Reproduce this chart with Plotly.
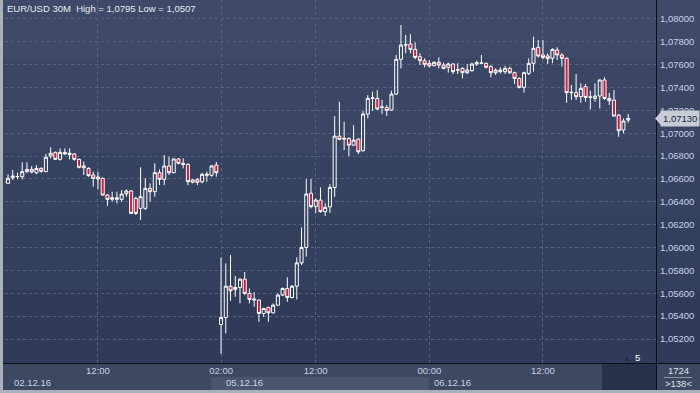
import plotly.graph_objects as go

# ---------------- data (30M candles, index = bar number) ----------------
opens = [
    1.06582, 1.06562, 1.06612, 1.06620, 1.06620, 1.06667, 1.06684, 1.06655, 1.06693, 1.06664,
    1.06801, 1.06833, 1.06772, 1.06833, 1.06813, 1.06819, 1.06772, 1.06714, 1.06693, 1.06635,
    1.06617, 1.06606, 1.06460, 1.06422, 1.06436, 1.06422, 1.06471, 1.06495, 1.06430, 1.06343,
    1.06343, 1.06518, 1.06489, 1.06655, 1.06597, 1.06714, 1.06655, 1.06775, 1.06737, 1.06728,
    1.06571, 1.06597, 1.06576, 1.06632, 1.06632, 1.06722,
    1.05327, 1.05388, 1.05662, 1.05634, 1.05651, 1.05724, 1.05599, 1.05540, 1.05540, 1.05423,
    1.05476, 1.05429, 1.05496, 1.05584, 1.05642, 1.05563, 1.05662, 1.05866, 1.06001, 1.06475,
    1.06358, 1.06416, 1.06314,
    1.06356, 1.06526, 1.06975, 1.06949, 1.06955, 1.06896, 1.06949, 1.06847, 1.07168, 1.07305,
    1.07305, 1.07226, 1.07226, 1.07203, 1.07343, 1.07647, 1.07772, 1.07781, 1.07734, 1.07670,
    1.07635, 1.07612, 1.07592, 1.07621, 1.07597, 1.07577, 1.07606, 1.07553, 1.07568, 1.07530,
    1.07548, 1.07606, 1.07612, 1.07612, 1.07583, 1.07530, 1.07553, 1.07539, 1.07568, 1.07530,
    1.07480, 1.07402, 1.07524, 1.07612, 1.07752, 1.07685, 1.07676, 1.07656, 1.07728, 1.07685,
    1.07656, 1.07355, 1.07355, 1.07320, 1.07408, 1.07314, 1.07305, 1.07326, 1.07466, 1.07305,
    1.07291, 1.07159, 1.07028, 1.07115,
]
highs = [
    1.06591, 1.06641, 1.06679, 1.06655, 1.06746, 1.06746, 1.06714, 1.06722, 1.06702, 1.06819,
    1.06877, 1.06840, 1.06868, 1.06868, 1.06868, 1.06825, 1.06778, 1.06752, 1.06702, 1.06664,
    1.06664, 1.06612, 1.06466, 1.06489, 1.06489, 1.06503, 1.06509, 1.06503, 1.06445, 1.06702,
    1.06606, 1.06562, 1.06737, 1.06684, 1.06810, 1.06795, 1.06781, 1.06781, 1.06781, 1.06737,
    1.06597, 1.06606, 1.06655, 1.06664, 1.06722, 1.06749,
    1.05914, 1.05862, 1.05935, 1.05751, 1.05730, 1.05786, 1.05642, 1.05610, 1.05546, 1.05473,
    1.05482, 1.05511, 1.05599, 1.05651, 1.05739, 1.05671, 1.05914, 1.06176, 1.06600, 1.06600,
    1.06431, 1.06527, 1.06387,
    1.06555, 1.07150, 1.07276, 1.07101, 1.06964, 1.07071, 1.06955, 1.07197, 1.07334, 1.07364,
    1.07378, 1.07291, 1.07247, 1.07372, 1.07685, 1.07947, 1.07860, 1.07869, 1.07796, 1.07700,
    1.07656, 1.07641, 1.07627, 1.07664, 1.07618, 1.07618, 1.07612, 1.07612, 1.07577, 1.07606,
    1.07618, 1.07635, 1.07685, 1.07618, 1.07597, 1.07568, 1.07577, 1.07589, 1.07583, 1.07539,
    1.07489, 1.07539, 1.07656, 1.07845, 1.07816, 1.07816, 1.07700, 1.07743, 1.07752, 1.07700,
    1.07664, 1.07422, 1.07518, 1.07437, 1.07431, 1.07372, 1.07437, 1.07472, 1.07489, 1.07355,
    1.07378, 1.07168, 1.07130, 1.07168,
]
lows = [
    1.06562, 1.06560, 1.06591, 1.06597, 1.06597, 1.06650, 1.06650, 1.06641, 1.06655, 1.06664,
    1.06781, 1.06766, 1.06760, 1.06810, 1.06772, 1.06760, 1.06693, 1.06635, 1.06620, 1.06533,
    1.06510, 1.06454, 1.06363, 1.06401, 1.06387, 1.06401, 1.06445, 1.06293, 1.06285, 1.06241,
    1.06328, 1.06401, 1.06445, 1.06547, 1.06547, 1.06635, 1.06650, 1.06728, 1.06693, 1.06547,
    1.06562, 1.06547, 1.06562, 1.06576, 1.06620, 1.06620,
    1.05070, 1.05249, 1.05534, 1.05570, 1.05512, 1.05584, 1.05512, 1.05482, 1.05350, 1.05394,
    1.05350, 1.05423, 1.05488, 1.05575, 1.05525, 1.05555, 1.05546, 1.05846, 1.05920, 1.06343,
    1.06300, 1.06305, 1.06276,
    1.06304, 1.06444, 1.06940, 1.06853, 1.06800, 1.06890, 1.06818, 1.06840, 1.07130, 1.07197,
    1.07203, 1.07168, 1.07150, 1.07197, 1.07335, 1.07568, 1.07700, 1.07700, 1.07647, 1.07597,
    1.07577, 1.07577, 1.07583, 1.07568, 1.07559, 1.07530, 1.07518, 1.07518, 1.07480, 1.07518,
    1.07539, 1.07589, 1.07606, 1.07568, 1.07489, 1.07510, 1.07524, 1.07518, 1.07518, 1.07431,
    1.07393, 1.07355, 1.07510, 1.07539, 1.07664, 1.07647, 1.07606, 1.07612, 1.07641, 1.07583,
    1.07267, 1.07291, 1.07291, 1.07267, 1.07276, 1.07209, 1.07276, 1.07218, 1.07291, 1.07247,
    1.07150, 1.06969, 1.06999, 1.07092,
]
closes = [
    1.06565, 1.06606, 1.06626, 1.06622, 1.06664, 1.06684, 1.06661, 1.06693, 1.06667, 1.06790,
    1.06825, 1.06772, 1.06833, 1.06819, 1.06825, 1.06772, 1.06702, 1.06699, 1.06629, 1.06606,
    1.06600, 1.06460, 1.06422, 1.06436, 1.06422, 1.06468, 1.06495, 1.06299, 1.06299, 1.06445,
    1.06518, 1.06489, 1.06655, 1.06597, 1.06714, 1.06655, 1.06775, 1.06737, 1.06728, 1.06576,
    1.06591, 1.06571, 1.06641, 1.06641, 1.06714, 1.06655,
    1.05388, 1.05662, 1.05621, 1.05651, 1.05724, 1.05599, 1.05546, 1.05549, 1.05423, 1.05467,
    1.05429, 1.05496, 1.05584, 1.05642, 1.05563, 1.05662, 1.05866, 1.06001, 1.06468, 1.06358,
    1.06416, 1.06314, 1.06352,
    1.06526, 1.06975, 1.06946, 1.06955, 1.06896, 1.06940, 1.06838, 1.07168, 1.07305, 1.07310,
    1.07212, 1.07230, 1.07200, 1.07343, 1.07647, 1.07772, 1.07775, 1.07734, 1.07664, 1.07635,
    1.07603, 1.07589, 1.07621, 1.07597, 1.07568, 1.07606, 1.07539, 1.07555, 1.07530, 1.07553,
    1.07606, 1.07618, 1.07614, 1.07577, 1.07530, 1.07553, 1.07539, 1.07568, 1.07530, 1.07480,
    1.07402, 1.07530, 1.07612, 1.07743, 1.07676, 1.07664, 1.07653, 1.07734, 1.07685, 1.07656,
    1.07355, 1.07358, 1.07320, 1.07393, 1.07314, 1.07317, 1.07326, 1.07466, 1.07305, 1.07285,
    1.07150, 1.07022, 1.07107, 1.07130,
]
bars = list(range(len(closes)))

time_tick_bars = [20, 46, 66, 90, 114]
time_tick_labels = ["12:00", "02:00", "12:00", "00:00", "12:00"]
date_label_bars = [46, 90]
date_labels = ["05.12.16", "06.12.16"]
first_date_label = "02.12.16"
price_ticks = [round(1.052 + 0.002 * k, 3) for k in range(15)]
bar_count_text = "1724"
visible_bars_text = ">138<"
shift_text = "5"

# ---------------- helpers (pixel -> paper) ----------------
W, H = 700, 393
L, R, T, B = 5, 43, 0, 30
PW, PH = W - L - R, H - T - B


def xp(px):
    return (px - L) / PW


def yp(py):
    return (PH - (py - T)) / PH


def fmt(v, d):
    return f"{v:.{d}f}".replace(".", ",")


FONT = "Liberation Sans, Arial, sans-serif"
FS = 9.5
GRID = "#56637f"
TXT = "#c9d3e6"

fig = go.Figure()
fig.add_trace(go.Candlestick(
    x=bars, open=opens, high=highs, low=lows, close=closes,
    increasing=dict(line=dict(color="#ffffff", width=1), fillcolor="rgba(0,0,0,0)"),
    decreasing=dict(line=dict(color="#ffffff", width=1), fillcolor="#dc1437"),
    whiskerwidth=0, hoverinfo="skip",
))

shapes = []
# banded background gradient
bands = [(0, 58, "#3e4a67"), (58, 153, "#3a4664"), (153, 217, "#364360"),
         (217, 290, "#33405d"), (290, 363, "#2f3b59")]
for y0, y1, col in bands:
    shapes.append(dict(type="rect", xref="paper", yref="paper", x0=xp(0), x1=xp(W),
                       y0=yp(y1), y1=yp(y0), fillcolor=col, line=dict(width=0), layer="below"))
# bottom time-axis panel
shapes += [
    dict(type="rect", xref="paper", yref="paper", x0=xp(0), x1=xp(W), y0=yp(393), y1=yp(363),
         fillcolor="#3d4861", line=dict(width=0), layer="below"),
    dict(type="rect", xref="paper", yref="paper", x0=xp(211), x1=xp(429), y0=yp(390), y1=yp(377),
         fillcolor="#4b566e", line=dict(width=0), layer="below"),
    dict(type="rect", xref="paper", yref="paper", x0=xp(602), x1=xp(656), y0=yp(390), y1=yp(364),
         fillcolor="#28324a", line=dict(width=0), layer="below"),
    dict(type="rect", xref="paper", yref="paper", x0=xp(0), x1=xp(3), y0=yp(393), y1=yp(0),
         fillcolor="#aab1bd", line=dict(width=0), layer="above"),
    dict(type="rect", xref="paper", yref="paper", x0=xp(0), x1=xp(W), y0=yp(393), y1=yp(390),
         fillcolor="#aab1bd", line=dict(width=0), layer="above"),
    dict(type="line", xref="paper", yref="paper", x0=xp(3), x1=xp(W), y0=yp(363.5), y1=yp(363.5),
         line=dict(color="#0c1018", width=1), layer="above"),
    dict(type="line", xref="paper", yref="paper", x0=xp(656.5), x1=xp(656.5), y0=yp(390), y1=yp(0),
         line=dict(color="#0c1018", width=1), layer="above"),
    dict(type="line", xref="paper", yref="paper", x0=xp(664), x1=xp(692), y0=yp(377.5), y1=yp(377.5),
         line=dict(color="#8e98aa", width=1), layer="above"),
]
# current price marker arrow
last = closes[-1]
d = 6.5 * (0.03176 / PH)
shapes.append(dict(type="path", xref="paper", yref="y",
                   path=f"M {xp(655)},{last} L {xp(661)},{last + d} L {xp(661)},{last - d} Z",
                   fillcolor="#c8cdd5", line=dict(width=0), layer="above"))

ann = [
    dict(xref="paper", yref="paper", x=xp(5), y=yp(8.5), xanchor="left", yanchor="middle",
         text=f"EUR/USD 30M  High = {fmt(max(highs), 4)} Low = {fmt(min(lows), 4)}",
         showarrow=False, font=dict(size=FS, color="#e8ecf2")),
    dict(xref="paper", yref="y", x=xp(660), y=last, xanchor="left", yanchor="middle",
         text=fmt(last, 5), showarrow=False, bgcolor="#c8cdd5", borderpad=2,
         font=dict(size=FS, color="#1b2743")),
    dict(xref="paper", yref="paper", x=xp(12), y=yp(382), xanchor="left", yanchor="middle",
         text=first_date_label, showarrow=False, font=dict(size=FS, color=TXT)),
    dict(xref="paper", yref="paper", x=xp(678), y=yp(370), xanchor="center", yanchor="middle",
         text=bar_count_text, showarrow=False, font=dict(size=FS, color="#dfe4ec")),
    dict(xref="paper", yref="paper", x=xp(678), y=yp(383.5), xanchor="center", yanchor="middle",
         text=visible_bars_text, showarrow=False, font=dict(size=FS, color="#dfe4ec")),
    dict(xref="paper", yref="paper", x=xp(633), y=yp(357), xanchor="left", yanchor="middle",
         text=shift_text, showarrow=False, font=dict(size=FS, color="#ffffff")),
    dict(xref="paper", yref="paper", x=xp(627), y=yp(358.5), xanchor="center", yanchor="middle",
         text="▲", showarrow=False, font=dict(size=8, color="#222b3d")),
]
for b, t in zip(date_label_bars, date_labels):
    ann.append(dict(xref="x", yref="paper", x=b, xshift=3, y=yp(382), xanchor="left",
                    yanchor="middle", text=t, showarrow=False, font=dict(size=FS, color=TXT)))

fig.update_layout(
    width=W, height=H, margin=dict(l=L, r=R, t=T, b=B, pad=0),
    paper_bgcolor="#364360", plot_bgcolor="rgba(0,0,0,0)",
    separators=",.", showlegend=False, hovermode=False,
    font=dict(family=FONT, size=FS, color=TXT),
    boxgap=0.2, boxgroupgap=0.2,
    shapes=shapes, annotations=ann,
    xaxis=dict(range=[0.36, 138.09], tickmode="array", tickvals=time_tick_bars,
               ticktext=time_tick_labels, showgrid=True, gridcolor=GRID, griddash="3px,3px",
               gridwidth=1, zeroline=False, showline=False, ticks="",
               tickfont=dict(size=FS, color=TXT), rangeslider=dict(visible=False),
               fixedrange=True),
    yaxis=dict(side="right", range=[1.0499, 1.08166], tickmode="array", tickvals=price_ticks,
               tickformat=".5f", showgrid=True, gridcolor=GRID, griddash="3px,3px",
               gridwidth=1, zeroline=False, showline=False, ticks="", ticklabelstandoff=2,
               tickfont=dict(size=FS, color=TXT), fixedrange=True),
)

fig.write_html("out.html")
